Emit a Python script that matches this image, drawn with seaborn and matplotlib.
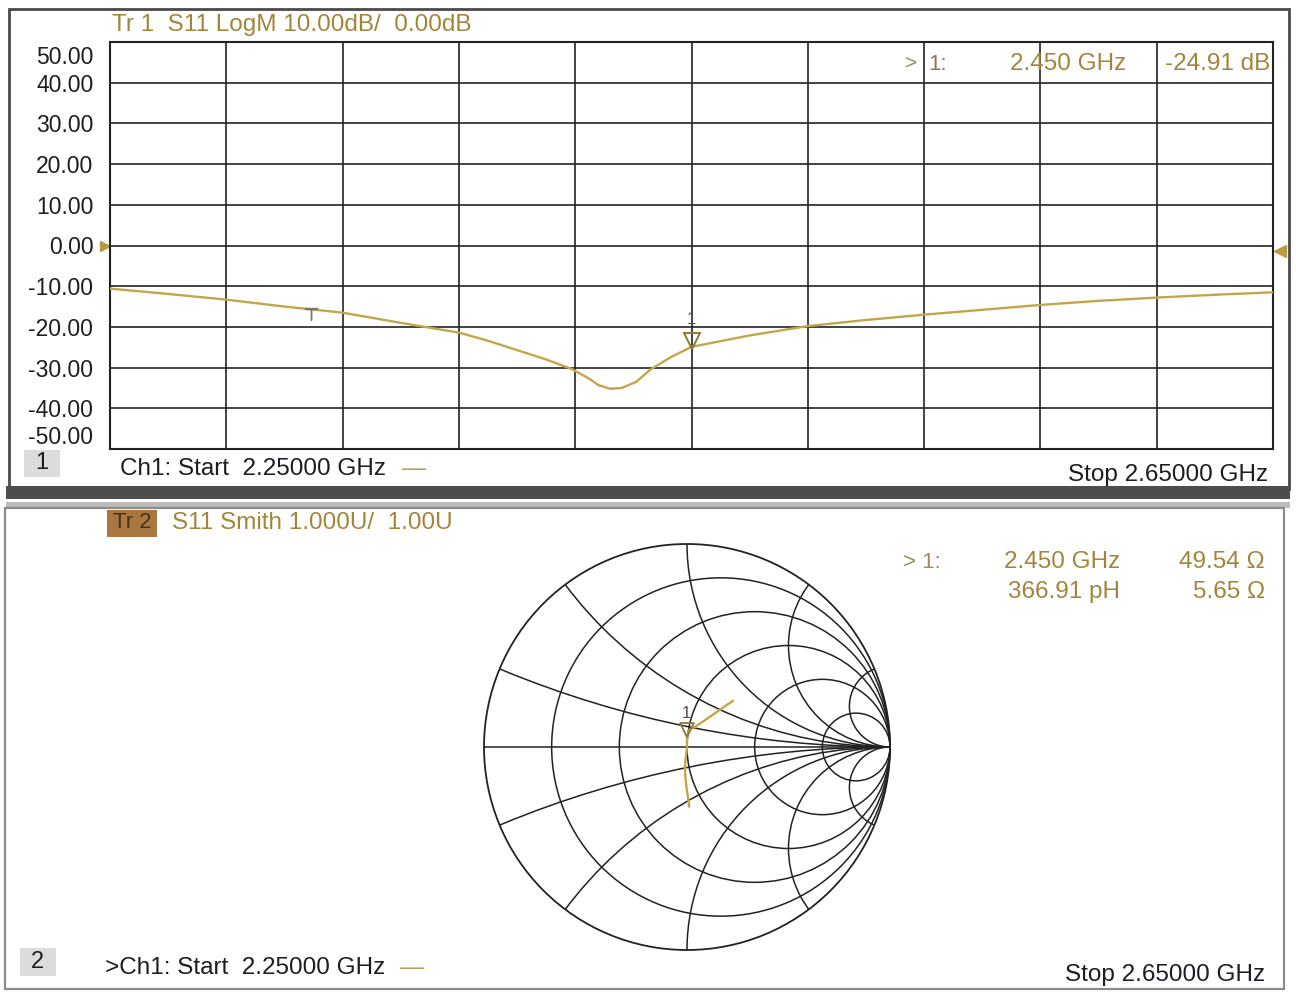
import numpy as np
import pandas as pd
import seaborn as sns
import matplotlib.pyplot as plt
from matplotlib.patches import Circle, Rectangle
from matplotlib.transforms import ScaledTranslation, blended_transform_factory

# Trace 1: S11 LogM
freq_ghz = [2.25, 2.27, 2.29, 2.31, 2.33, 2.35, 2.37, 2.38, 2.39, 2.40, 2.409,
            2.415, 2.418, 2.422, 2.426, 2.431, 2.436, 2.443, 2.45, 2.47, 2.49,
            2.51, 2.53, 2.55, 2.57, 2.59, 2.61, 2.63, 2.65]
s11_db = [-10.6, -11.9, -13.3, -15.0, -16.5, -19.0, -21.4, -23.4, -25.7, -28.0, -30.4,
          -32.8, -34.3, -35.2, -35.0, -33.5, -30.4, -27.4, -24.9, -22.1, -19.8,
          -18.3, -17.0, -15.8, -14.6, -13.6, -12.8, -12.1, -11.5]
y_ticks = [50, 40, 30, 20, 10, 0, -10, -20, -30, -40, -50]
y_tick_labels = ['50.00', '40.00', '30.00', '20.00', '10.00', '0.00',
                 '-10.00', '-20.00', '-30.00', '-40.00', '-50.00']
f_start, f_stop = 2.25, 2.65

# marker 1 readout
mk_freq = 2.45
mk_db = -24.91
mk_res = 49.54
mk_react = 5.65
ref_freq = 2.319
ref_db = -15.7

# Trace 2: S11 Smith, reflection coefficient
gamma_re = [0.011, 0.005, -0.001, -0.007, -0.010, -0.008, -0.003, 0.000, 0.000,
            0.012, 0.039, 0.085, 0.133, 0.180, 0.227]
gamma_im = [-0.294, -0.250, -0.212, -0.160, -0.113, -0.065, -0.030, 0.000, 0.057,
            0.085, 0.099, 0.130, 0.163, 0.196, 0.228]
smith_r = [0.2, 0.5, 1, 2, 5]
smith_x = [0.2, 0.5, 1, 2, 5]

sns.set_theme(style='white')
plt.rcParams['font.family'] = ['Liberation Sans', 'DejaVu Sans']

W, H = 1296, 992
fig = plt.figure(figsize=(W / 100, H / 100), dpi=100)
fig.patch.set_facecolor('white')


def fx(x):
    return x / W


def fy(y):
    return 1 - y / H


gold = '#a3853a'
trace_c = '#c4a64a'
grid_c = '#222222'
dark = '#1c1c24'

# ---- frames
fig.add_artist(Rectangle((fx(9), fy(489)), fx(1289) - fx(9), fy(9) - fy(489),
                         transform=fig.transFigure, fill=False, ec='#4a4a4a', lw=2))
fig.add_artist(Rectangle((fx(6), fy(499)), fx(1290) - fx(6), fy(486) - fy(499),
                         transform=fig.transFigure, fc='#4d4d4d', ec='none'))
fig.add_artist(Rectangle((fx(6), fy(508)), fx(1290) - fx(6), fy(502) - fy(508),
                         transform=fig.transFigure, fc='#bdbdbd', ec='none'))
fig.add_artist(Rectangle((fx(5), fy(989)), fx(1284) - fx(5), fy(508) - fy(989),
                         transform=fig.transFigure, fill=False, ec='#8c8c8c', lw=1.6))

# ---- top panel: LogM
ax = fig.add_axes([fx(110), fy(449), fx(1273) - fx(110), fy(42) - fy(449)])
df_logm = pd.DataFrame({'freq': freq_ghz, 'db': s11_db})
sns.lineplot(data=df_logm, x='freq', y='db', ax=ax, color=trace_c, lw=1.7,
             estimator=None, zorder=4)
ax.set_xlim(f_start, f_stop)
ax.set_ylim(-50, 50)
ax.set_xticks(np.linspace(f_start, f_stop, 11))
ax.set_xticklabels([])
ax.set_yticks(y_ticks)
ax.set_yticklabels(y_tick_labels)
ax.set_xlabel('')
ax.set_ylabel('')
ax.grid(True, color=grid_c, lw=1.2)
ax.tick_params(length=0, labelsize=16.5, pad=12, labelcolor=dark)
for s in ax.spines.values():
    s.set_color(grid_c)
    s.set_linewidth(1.5)
labels = ax.get_yticklabels()
for lab, v in zip(labels, y_ticks):
    if v == 50:
        lab.set_transform(lab.get_transform() + ScaledTranslation(0, -0.13, fig.dpi_scale_trans))
    if v == -50:
        lab.set_transform(lab.get_transform() + ScaledTranslation(0, 0.14, fig.dpi_scale_trans))

up5 = ax.transData + ScaledTranslation(0, 0.06, fig.dpi_scale_trans)
ax.plot([mk_freq], [mk_db], marker='v', ms=11, mfc='none', mec='#8a7a30', mew=1.4,
        transform=up5, zorder=5)
ax.annotate('1', xy=(mk_freq, mk_db), xytext=(0, 20), textcoords='offset pixels',
            ha='center', va='bottom', fontsize=12, color='#5a5040')
ax.plot([ref_freq], [ref_db], marker=r'$\top$', ms=8, color='#777777',
        transform=ax.transData + ScaledTranslation(0, -0.05, fig.dpi_scale_trans), zorder=5)
edge = blended_transform_factory(ax.transAxes, ax.transData)
ax.plot([0], [0], marker='>', ms=7, color='#b89a45', clip_on=False,
        transform=edge + ScaledTranslation(-0.05, 0, fig.dpi_scale_trans))
ax.plot([1], [0], marker='<', ms=8, color='#b89a45', clip_on=False,
        transform=edge + ScaledTranslation(0.07, -0.05, fig.dpi_scale_trans))

fs = 17.5
fig.text(fx(112), fy(25), 'Tr 1  S11 LogM 10.00dB/  0.00dB', color=gold, fontsize=fs, va='center')
fig.text(fx(905), fy(64), '>', color='#9a8a6a', fontsize=15, va='center')
fig.text(fx(928), fy(64), '1:', color='#8a7a5a', fontsize=16, va='center')
fig.text(fx(1126), fy(64), f'{mk_freq:.3f} GHz', color=gold, fontsize=fs, va='center', ha='right')
fig.text(fx(1270), fy(64), f'{mk_db:.2f} dB', color=gold, fontsize=fs, va='center', ha='right')

fig.add_artist(Rectangle((fx(24), fy(477)), fx(60) - fx(24), fy(450) - fy(477),
                         transform=fig.transFigure, fc='#dcdcdc', ec='none'))
fig.text(fx(42), fy(463), '1', color=dark, fontsize=17, va='center', ha='center')
fig.text(fx(120), fy(469), f'Ch1: Start  {f_start:.5f} GHz', color=dark, fontsize=fs, va='center')
fig.text(fx(402), fy(469), '\u2014', color='#b0a050', fontsize=fs, va='center')
fig.text(fx(1268), fy(475), f'Stop {f_stop:.5f} GHz', color=dark, fontsize=fs, va='center', ha='right')

# ---- bottom panel: Smith chart
R_px = 203
sx = fig.add_axes([fx(687 - 1.02 * R_px), fy(747 + 1.02 * R_px), 2.04 * R_px / W, 2.04 * R_px / H])
sx.set_xlim(-1.02, 1.02)
sx.set_ylim(-1.02, 1.02)
sx.set_aspect('equal')
sx.axis('off')
outer = Circle((0, 0), 1, fill=False, ec=grid_c, lw=1.3)
sx.add_patch(outer)
for r in smith_r:
    sx.add_patch(Circle((r / (1 + r), 0), 1 / (1 + r), fill=False, ec=grid_c, lw=1.1))
for xv in smith_x:
    for sgn in (1, -1):
        arc = Circle((1, sgn / xv), 1 / xv, fill=False, ec=grid_c, lw=1.1)
        sx.add_patch(arc)
        arc.set_clip_path(outer)
sx.plot([-1, 1], [0, 0], color=grid_c, lw=1.1)

df_smith = pd.DataFrame({'re': gamma_re, 'im': gamma_im})
sns.lineplot(data=df_smith, x='re', y='im', ax=sx, sort=False, estimator=None,
             color=trace_c, lw=1.7, zorder=4)
sx.set_xlabel('')
sx.set_ylabel('')
z = complex(mk_res, mk_react) / 50
g = (z - 1) / (z + 1)
sx.plot([g.real], [g.imag], marker='v', ms=10, mfc='none', mec='#8a7a30', mew=1.3,
        transform=sx.transData + ScaledTranslation(0, 0.05, fig.dpi_scale_trans), zorder=5)
sx.annotate('1', xy=(g.real, g.imag), xytext=(0, 14), textcoords='offset pixels',
            ha='center', va='bottom', fontsize=12, color='#5a5040')

fig.add_artist(Rectangle((fx(107), fy(537)), fx(157) - fx(107), fy(510) - fy(537),
                         transform=fig.transFigure, fc='#a9773f', ec='none'))
fig.text(fx(132), fy(523), 'Tr 2', color='#4a3418', fontsize=16, va='center', ha='center')
fig.text(fx(172), fy(523), 'S11 Smith 1.000U/  1.00U', color=gold, fontsize=fs, va='center')
fig.text(fx(903), fy(562), '> 1:', color='#9a8a6a', fontsize=16, va='center')
fig.text(fx(1120), fy(562), f'{mk_freq:.3f} GHz', color=gold, fontsize=fs, va='center', ha='right')
fig.text(fx(1265), fy(562), f'{mk_res:.2f} \u03a9', color=gold, fontsize=fs, va='center', ha='right')
fig.text(fx(1120), fy(592), '366.91 pH', color=gold, fontsize=fs, va='center', ha='right')
fig.text(fx(1265), fy(592), f'{mk_react:.2f} \u03a9', color=gold, fontsize=fs, va='center', ha='right')

fig.add_artist(Rectangle((fx(20), fy(976)), fx(56) - fx(20), fy(948) - fy(976),
                         transform=fig.transFigure, fc='#dcdcdc', ec='none'))
fig.text(fx(37), fy(962), '2', color=dark, fontsize=17, va='center', ha='center')
fig.text(fx(105), fy(968), f'>Ch1: Start  {f_start:.5f} GHz', color=dark, fontsize=fs, va='center')
fig.text(fx(400), fy(968), '\u2014', color='#b0a050', fontsize=fs, va='center')
fig.text(fx(1265), fy(975), f'Stop {f_stop:.5f} GHz', color=dark, fontsize=fs, va='center', ha='right')

fig.savefig('out.png', dpi=100)
